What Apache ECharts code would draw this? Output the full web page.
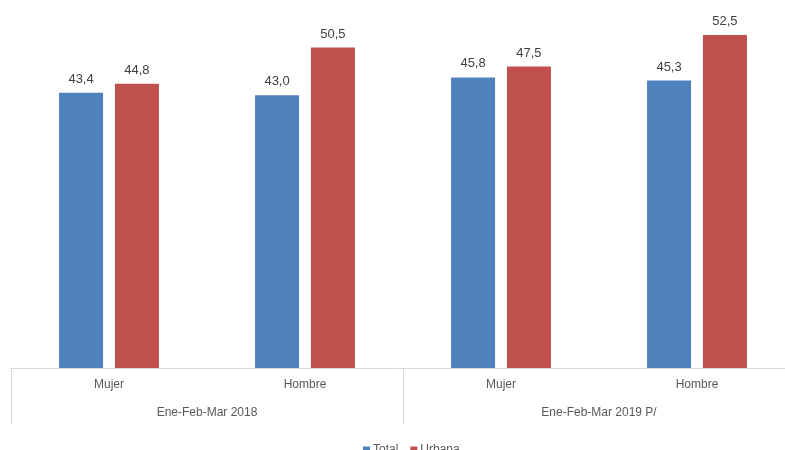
<!DOCTYPE html>
<html>
<head>
<meta charset="utf-8">
<script src="https://cdn.jsdelivr.net/npm/echarts@6/dist/echarts.min.js"></script>
<style>html,body{margin:0;padding:0;background:#fff;}#c{width:785px;height:450px;}</style>
</head>
<body>
<div id="c"></div>
<script>
var categories = ['Mujer', 'Hombre', 'Mujer', 'Hombre'];
var groups = ['Ene-Feb-Mar 2018', 'Ene-Feb-Mar 2019 P/'];
var totalValues = [43.4, 43.0, 45.8, 45.3];
var urbanaValues = [44.8, 50.5, 47.5, 52.5];
var seriesNames = ['Total', 'Urbana'];

var FONT = '"Liberation Sans Narrow", "Arial Narrow", "Liberation Sans", Arial, sans-serif';
var chart = echarts.init(document.getElementById('c'));
function fmt(p) { return p.value.toFixed(1).replace('.', ','); }
chart.setOption({
  animation: false,
  textStyle: { fontFamily: FONT },
  grid: { left: 11, right: -10, top: 0, bottom: 82, containLabel: false, outerBoundsMode: 'none' },
  legend: {
    data: seriesNames, left: 358, top: 439, itemWidth: 7, itemHeight: 7, itemGap: 12,
    icon: 'rect', textStyle: { fontFamily: FONT, fontSize: 12, color: '#595959', padding: [0, 0, 0, -2] }
  },
  xAxis: [
    {
      type: 'category', data: categories, position: 'bottom',
      axisLine: { show: true, lineStyle: { color: '#d9d9d9', width: 1 } },
      axisTick: { show: false },
      axisLabel: { margin: 11, fontSize: 12, color: '#595959', fontFamily: FONT }
    },
    {
      type: 'category', data: groups, position: 'bottom', gridIndex: 0,
      axisLine: { show: false },
      axisTick: { show: true, length: 56, lineStyle: { color: '#d9d9d9', width: 1 } },
      axisLabel: { margin: 39, fontSize: 12, color: '#595959', fontFamily: FONT }
    }
  ],
  yAxis: { type: 'value', min: 0, max: 58, show: false, splitLine: { show: false } },
  series: [
    {
      name: seriesNames[0], type: 'bar', xAxisIndex: 0, data: totalValues,
      barWidth: 44, barGap: '27%', itemStyle: { color: '#4F81BD' },
      label: { show: true, position: 'top', distance: 7, formatter: fmt, fontSize: 13, color: '#404040', fontFamily: FONT }
    },
    {
      name: seriesNames[1], type: 'bar', xAxisIndex: 0, data: urbanaValues,
      barWidth: 44, barGap: '27%', itemStyle: { color: '#C0504D' },
      label: { show: true, position: 'top', distance: 7, formatter: fmt, fontSize: 13, color: '#404040', fontFamily: FONT }
    }
  ]
});
</script>
</body>
</html>
